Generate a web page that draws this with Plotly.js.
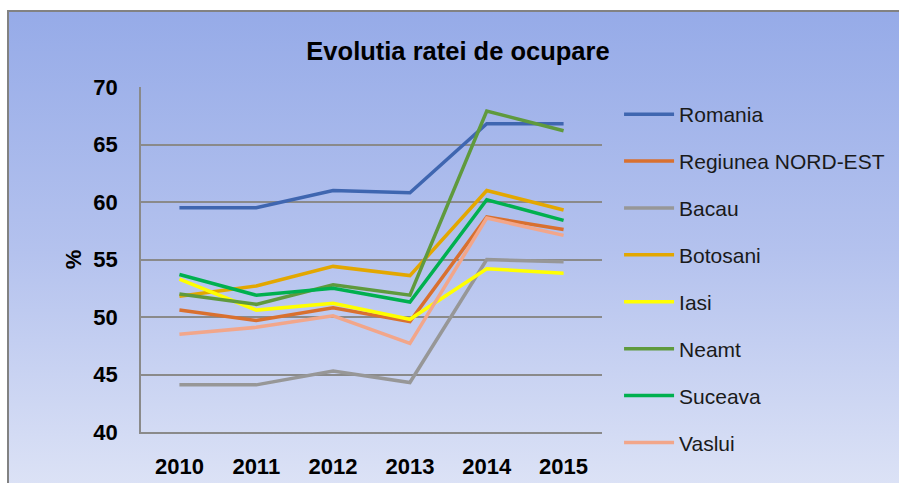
<!DOCTYPE html>
<html>
<head>
<meta charset="utf-8">
<script src="https://cdn.plot.ly/plotly-3.0.1.min.js"></script>
<style>
  html, body { margin: 0; padding: 0; background: #ffffff; }
  #frame {
    position: absolute; left: 7px; top: 10px; width: 899px; height: 480px;
    border-left: 2px solid #828282; border-top: 2px solid #828282;
    background: linear-gradient(to bottom, #96abe8 0%, #b4c2ee 50%, #dde3f6 100%);
  }
  #chart { position: absolute; left: 0; top: 0; width: 899px; height: 483px; }
</style>
</head>
<body>
<div id="frame"></div>
<div id="chart"></div>
<script>
const years = ["2010", "2011", "2012", "2013", "2014", "2015"];
const seriesNames = ["Romania", "Regiunea NORD-EST", "Bacau", "Botosani", "Iasi", "Neamt", "Suceava", "Vaslui"];
const romania   = [59.5, 59.5, 61.0, 60.8, 66.8, 66.8];
const nordEst   = [50.6, 49.7, 50.8, 49.6, 58.7, 57.6];
const bacau     = [44.1, 44.1, 45.3, 44.3, 55.0, 54.8];
const botosani  = [51.8, 52.7, 54.4, 53.6, 61.0, 59.3];
const iasi      = [53.3, 50.6, 51.2, 49.8, 54.2, 53.8];
const neamt     = [52.0, 51.1, 52.8, 51.9, 67.9, 66.2];
const suceava   = [53.7, 51.9, 52.5, 51.3, 60.2, 58.4];
const vaslui    = [48.5, 49.1, 50.1, 47.7, 58.6, 57.1];
const yTicks    = [40, 45, 50, 55, 60, 65, 70];

const values = [romania, nordEst, bacau, botosani, iasi, neamt, suceava, vaslui];
const colors = ["#3f66b0", "#d9702f", "#979797", "#e3a700", "#ffff00", "#5f9a3d", "#00b04f", "#f2a68a"];

const traces = seriesNames.map((name, i) => ({
  type: "scatter",
  mode: "lines",
  name: name,
  legendgroup: "g" + i,
  x: years,
  y: values[i],
  line: { color: colors[i], width: 3.5 },
  hoverinfo: "x+y+name"
}));

const FONT = "Liberation Sans, Arial, sans-serif";

const layout = {
  width: 899,
  height: 483,
  margin: { l: 141, r: 297, t: 87, b: 51, pad: 0, autoexpand: false },
  paper_bgcolor: "rgba(0,0,0,0)",
  plot_bgcolor: "rgba(0,0,0,0)",
  font: { family: FONT, color: "#000000" },
  title: {
    text: "<b>Evolutia ratei de ocupare</b>",
    font: { family: FONT, size: 25.5, color: "#000000" },
    x: 458 / 899, xref: "container", xanchor: "center",
    y: 1 - 51 / 483, yref: "container", yanchor: "middle"
  },
  xaxis: {
    type: "category",
    range: [-0.5, 5.5],
    showgrid: false,
    showline: true, linecolor: "#8a8a8a", linewidth: 1.5,
    ticks: "", ticklabelstandoff: 14,
    tickfont: { family: FONT, size: 22, color: "#000000", weight: "bold" },
    zeroline: false, fixedrange: true
  },
  yaxis: {
    range: [40, 70],
    tickvals: yTicks,
    ticktext: yTicks.map(String),
    showgrid: true, gridcolor: "#8a8a8a", gridwidth: 1.5,
    showline: true, linecolor: "#8a8a8a", linewidth: 1.5,
    ticks: "", ticklabelstandoff: 17,
    tickfont: { family: FONT, size: 22, color: "#000000", weight: "bold" },
    title: { text: "<b>%</b>", font: { family: FONT, size: 22, color: "#000000" }, standoff: 6 },
    zeroline: false, fixedrange: true
  },
  showlegend: true,
  legend: {
    x: 1.037, xanchor: "left",
    y: 1 - 94 / 483, yref: "container", yanchor: "top",
    traceorder: "grouped",
    tracegroupgap: 16.6,
    maxheight: 483,
    bgcolor: "rgba(0,0,0,0)",
    font: { family: FONT, size: 21, color: "#1a1a1a" },
    itemwidth: 50
  }
};

Plotly.newPlot("chart", traces, layout, { displayModeBar: false });
</script>
</body>
</html>
